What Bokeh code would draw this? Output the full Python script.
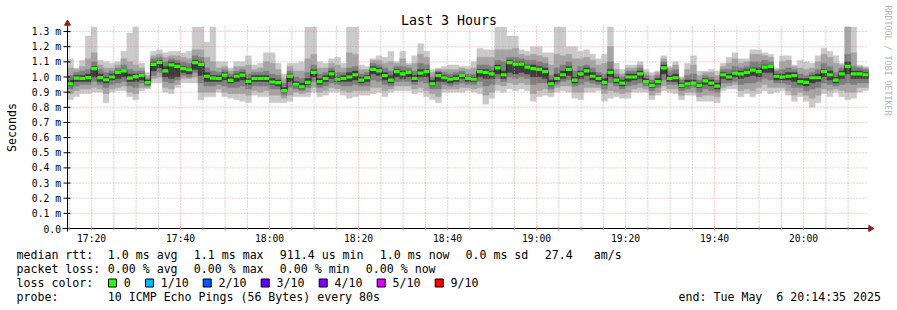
import math
from bokeh.plotting import figure
from bokeh.models import Range1d
from bokeh.embed import file_html
from bokeh.resources import INLINE
from bokeh.core.properties import value

# ---------------- data ----------------
START_TIME = "17:14:35"
STEP_SECONDS = 80
N_STEPS = 135

# median rtt per 80 s step (ms)
MEDIAN = [0.955, 0.993, 0.990, 0.996, 1.055, 0.996, 0.982, 1.000, 1.030, 1.040,
          0.993, 1.002, 1.010, 0.963, 1.083, 1.097, 1.040, 1.080, 1.070, 1.055,
          1.048, 1.095, 1.083, 1.005, 0.993, 0.990, 1.012, 0.978, 1.005, 1.012,
          0.971, 0.990, 0.990, 0.990, 0.967, 0.963, 0.911, 1.006, 0.952, 0.935,
          0.965, 1.030, 0.970, 0.990, 1.020, 0.985, 0.990, 1.000, 1.015, 0.980,
          0.995, 1.050, 1.040, 1.010, 0.980, 1.035, 1.020, 1.030, 0.990, 1.025,
          1.035, 0.955, 1.010, 0.995, 0.985, 0.990, 1.010, 0.990, 0.985, 1.035,
          1.030, 1.020, 1.060, 1.015, 1.095, 1.085, 1.085, 1.065, 1.055, 1.050,
          1.035, 0.955, 0.990, 1.015, 1.050, 0.980, 1.020, 1.040, 1.005, 0.990,
          0.965, 1.030, 0.980, 0.960, 1.000, 1.000, 1.020, 0.970, 0.945, 0.970,
          1.060, 0.990, 0.995, 0.945, 0.955, 0.960, 0.945, 0.975, 0.960, 0.940,
          1.015, 1.000, 1.025, 1.020, 1.030, 1.045, 1.035, 1.065, 1.070, 1.005,
          1.000, 1.005, 1.010, 0.970, 0.965, 0.995, 0.995, 1.035, 1.015, 0.980,
          1.020, 1.070, 1.020, 1.020, 1.015]

# sorted ping rtts (1st..10th of 10) per step, in hundredths of a ms
P1 = [85, 87, 89, 89, 90, 90, 83, 90, 91, 91, 87, 85, 91, 92, 96, 96, 90, 89, 93, 96,
      96, 96, 85, 87, 87, 90, 87, 86, 85, 84, 83, 88, 87, 87, 83, 83, 83, 84, 87, 87,
      87, 90, 87, 88, 90, 90, 88, 86, 87, 88, 88, 89, 90, 87, 90, 91, 91, 91, 89, 90,
      87, 85, 83, 90, 90, 90, 90, 91, 90, 89, 82, 86, 91, 90, 92, 91, 92, 91, 84, 87,
      88, 87, 90, 91, 90, 86, 85, 90, 90, 91, 84, 86, 87, 86, 86, 90, 90, 90, 85, 88,
      91, 90, 89, 85, 88, 88, 84, 84, 84, 83, 91, 92, 92, 87, 89, 87, 89, 91, 89, 90,
      91, 88, 84, 87, 84, 80, 83, 89, 87, 90, 87, 85, 86, 90, 91]
P2 = [89, 91, 92, 92, 93, 92, 89, 92, 93, 94, 90, 89, 93, 93, 99, 100, 93, 92, 95, 99,
      99, 100, 90, 90, 90, 92, 90, 89, 89, 89, 88, 91, 90, 91, 88, 88, 86, 88, 90, 89,
      90, 93, 90, 91, 93, 92, 91, 90, 91, 91, 91, 93, 93, 91, 92, 94, 94, 94, 92, 93,
      91, 89, 87, 92, 92, 92, 93, 93, 92, 93, 88, 90, 95, 94, 96, 95, 96, 95, 89, 91,
      92, 90, 93, 94, 94, 90, 90, 93, 93, 93, 89, 91, 90, 89, 90, 92, 93, 92, 88, 90,
      94, 92, 92, 88, 90, 90, 87, 88, 88, 87, 93, 94, 95, 91, 92, 91, 93, 95, 93, 93,
      93, 91, 88, 90, 88, 86, 88, 92, 91, 92, 91, 90, 90, 93, 93]
P3 = [92, 94, 95, 95, 97, 95, 93, 95, 96, 97, 94, 93, 96, 94, 101, 103, 97, 96, 98, 101,
      100, 103, 96, 94, 94, 95, 94, 93, 93, 94, 92, 94, 94, 94, 92, 92, 88, 93, 92, 91,
      93, 97, 93, 94, 96, 95, 94, 94, 95, 94, 94, 98, 97, 95, 94, 97, 97, 97, 95, 97,
      96, 92, 92, 95, 94, 95, 96, 95, 95, 97, 94, 95, 99, 97, 100, 99, 100, 99, 95, 96,
      96, 92, 95, 97, 98, 94, 95, 97, 96, 95, 92, 96, 94, 92, 94, 95, 96, 94, 91, 93,
      98, 95, 95, 91, 92, 93, 90, 92, 91, 90, 96, 96, 97, 95, 96, 96, 97, 99, 98, 96,
      96, 95, 93, 93, 91, 92, 93, 96, 95, 94, 95, 96, 95, 96, 96]
P4 = [94, 97, 97, 97, 100, 97, 96, 98, 99, 100, 97, 97, 98, 95, 104, 106, 100, 99, 100, 103,
      102, 105, 101, 97, 97, 97, 98, 96, 97, 98, 95, 97, 97, 97, 95, 94, 90, 97, 94, 92,
      95, 100, 95, 97, 99, 97, 97, 97, 98, 96, 97, 102, 101, 98, 96, 100, 99, 100, 97, 100,
      100, 94, 97, 97, 96, 97, 99, 97, 97, 100, 99, 99, 102, 99, 103, 102, 103, 102, 100, 100,
      99, 94, 97, 99, 101, 96, 99, 101, 98, 97, 95, 100, 96, 94, 97, 98, 99, 96, 93, 95,
      102, 97, 97, 93, 94, 95, 93, 95, 94, 92, 99, 98, 100, 99, 100, 101, 100, 103, 103, 98,
      98, 98, 97, 95, 94, 96, 97, 100, 98, 96, 99, 102, 99, 99, 99]
P7 = [98, 101, 101, 102, 107, 102, 100, 102, 104, 105, 102, 102, 102, 98, 110, 111, 107, 110, 109, 107,
      106, 111, 110, 103, 101, 101, 103, 100, 102, 103, 99, 101, 101, 101, 99, 98, 93, 102, 97, 96,
      99, 105, 99, 101, 104, 100, 101, 103, 104, 100, 101, 107, 106, 103, 101, 105, 104, 104, 101, 105,
      105, 98, 103, 101, 100, 101, 102, 100, 100, 105, 105, 104, 108, 104, 111, 110, 110, 108, 108, 107,
      106, 98, 102, 104, 107, 100, 104, 106, 103, 101, 99, 105, 100, 98, 102, 102, 104, 99, 96, 99,
      108, 101, 102, 96, 98, 98, 96, 99, 98, 96, 103, 102, 104, 104, 105, 106, 106, 108, 108, 102,
      102, 103, 103, 99, 99, 101, 102, 105, 104, 100, 104, 110, 104, 104, 103]
P8 = [101, 103, 104, 105, 110, 105, 103, 104, 106, 108, 105, 104, 104, 99, 112, 113, 110, 112, 111, 110,
      109, 114, 113, 106, 104, 103, 105, 102, 104, 105, 102, 103, 103, 104, 102, 101, 96, 104, 100, 99,
      103, 108, 102, 103, 106, 103, 103, 106, 107, 102, 103, 109, 108, 106, 104, 107, 107, 106, 104, 109,
      108, 100, 104, 103, 102, 103, 104, 102, 102, 108, 108, 107, 111, 110, 113, 113, 112, 111, 111, 110,
      109, 101, 106, 108, 110, 104, 107, 108, 106, 103, 102, 110, 102, 100, 104, 104, 106, 101, 98, 101,
      110, 104, 105, 98, 101, 102, 98, 101, 100, 98, 105, 105, 107, 106, 107, 110, 110, 111, 110, 104,
      105, 106, 105, 102, 101, 103, 105, 109, 107, 103, 106, 115, 107, 106, 105]
P9 = [106, 105, 107, 112, 116, 108, 106, 106, 108, 112, 110, 108, 106, 101, 114, 115, 113, 114, 114, 113,
      112, 118, 118, 113, 110, 106, 107, 104, 107, 107, 108, 105, 106, 110, 109, 105, 99, 107, 104, 104,
      112, 115, 106, 106, 109, 108, 106, 116, 115, 105, 105, 111, 111, 109, 110, 109, 112, 108, 109, 115,
      113, 103, 105, 105, 105, 105, 106, 105, 106, 113, 113, 113, 118, 118, 118, 119, 115, 114, 115, 114,
      113, 108, 115, 114, 115, 112, 112, 113, 111, 108, 109, 120, 105, 102, 106, 106, 108, 103, 101, 103,
      112, 106, 108, 99, 105, 108, 101, 103, 103, 101, 107, 109, 112, 109, 110, 115, 115, 114, 113, 105,
      110, 111, 107, 106, 105, 106, 110, 115, 113, 109, 108, 133, 116, 107, 106]
P10 = [112, 106, 111, 127, 133, 111, 110, 109, 110, 117, 129, 133, 109, 103, 117, 118, 116, 117, 117, 116,
       117, 133, 133, 123, 133, 110, 110, 106, 110, 110, 114, 108, 109, 116, 116, 109, 102, 109, 109, 110,
       133, 133, 110, 109, 112, 113, 109, 133, 133, 108, 107, 112, 114, 113, 117, 110, 117, 109, 114, 122,
       117, 105, 106, 107, 108, 108, 107, 107, 110, 119, 118, 118, 133, 133, 127, 127, 118, 117, 120, 120,
       116, 116, 133, 133, 120, 120, 117, 118, 115, 112, 115, 133, 109, 105, 108, 108, 110, 105, 103, 104,
       114, 107, 110, 100, 109, 114, 104, 104, 105, 104, 109, 113, 116, 112, 112, 118, 118, 116, 115, 106,
       114, 114, 108, 111, 110, 109, 114, 119, 117, 114, 109, 133, 133, 108, 107]

Y_TICKS = [0.0, 0.1, 0.2, 0.3, 0.4, 0.5, 0.6, 0.7, 0.8, 0.9, 1.0, 1.1, 1.2, 1.3]
Y_TICK_LABELS = ["0.0", "0.1 m", "0.2 m", "0.3 m", "0.4 m", "0.5 m", "0.6 m",
                 "0.7 m", "0.8 m", "0.9 m", "1.0 m", "1.1 m", "1.2 m", "1.3 m"]
X_TICK_LABELS = ["17:20", "17:40", "18:00", "18:20", "18:40", "19:00", "19:20", "19:40", "20:00"]
MINOR_MINUTES = 5

LOSS_LABELS = ["0", "1/10", "2/10", "3/10", "4/10", "5/10", "9/10"]
LOSS_COLORS = ["#26ff00", "#00b8ff", "#0059ff", "#5e00ff", "#7e00ff", "#dd00ff", "#ff0000"]

TITLE = "Last 3 Hours"
Y_LABEL = "Seconds"
WATERMARK = "RRDTOOL / TOBI OETIKER"
LEGEND_ROWS = [
    [("median rtt:", 16), ("1.0 ms avg", 107.3), ("1.1 ms max", 193.3), ("911.4 us min", 279.3),
     ("1.0 ms now", 379.3), ("0.0 ms sd", 465), ("27.4", 544.3), ("am/s", 593.3)],
    [("packet loss:", 16), ("0.00 % avg", 107.3), ("0.00 % max", 193.3), ("0.00 % min", 279.3),
     ("0.00 % now", 365.3)],
    [("loss color:", 16)],
    [("probe:", 16), ("10 ICMP Echo Pings (56 Bytes) every 80s", 107.3)],
]
END_TEXT = "end: Tue May \u00a06 20:14:35 2025"

# ---------------- layout ----------------
W, H = 897, 310
PX_LEFT, PX_RIGHT = 67, 868
PX_ZERO = 228
PX_PER_MS = 151.5
FONT = "DejaVu Sans Mono"


def hm(s):
    parts = [int(v) for v in s.split(":")]
    return parts[0] * 60 + parts[1] + (parts[2] / 60 if len(parts) > 2 else 0)


start_min = hm(START_TIME)
step_min = STEP_SECONDS / 60
end_min = start_min + N_STEPS * step_min
px_per_min = (PX_RIGHT - PX_LEFT) / (end_min - start_min)
x0 = start_min - PX_LEFT / px_per_min
x1 = x0 + W / px_per_min
y1 = PX_ZERO / PX_PER_MS
y0 = y1 - H / PX_PER_MS


def X(px):
    return x0 + px / px_per_min


def Y(py):
    return (PX_ZERO - py) / PX_PER_MS


p = figure(width=W, height=H, x_range=Range1d(x0, x1), y_range=Range1d(y0, y1),
           x_axis_location=None, y_axis_location=None, min_border=0,
           toolbar_location=None, output_backend="svg",
           background_fill_color="white", border_fill_color="white")
p.outline_line_color = None
p.xgrid.visible = False
p.ygrid.visible = False

lefts = [start_min + i * step_min for i in range(N_STEPS)]
rights = [l + step_min for l in lefts]

bands = [(P1, P10, "#cacaca"), (P2, P9, "#a4a4a4"), (P3, P8, "#7e7e7e"), (P4, P7, "#3e3e3e")]
for lo, hi, col in bands:
    p.quad(left=lefts, right=rights, bottom=[v / 100 for v in lo], top=[v / 100 for v in hi],
           fill_color=col, line_color=col, line_width=0.4)

# median line (dark) and green loss-coloured band
edges = lefts + [end_min]
p.step(x=edges, y=MEDIAN + [MEDIAN[-1]], mode="after", line_color="#202020", line_width=1)
half = 1.6 / PX_PER_MS
p.quad(left=lefts, right=rights, bottom=[m - half for m in MEDIAN], top=[m + half for m in MEDIAN],
       fill_color=LOSS_COLORS[0], line_color=None)

# grid (drawn on top, like rrdtool)
first_minor = math.ceil(start_min / MINOR_MINUTES) * MINOR_MINUTES
minor = [first_minor + MINOR_MINUTES * k for k in range(int((end_min - first_minor) // MINOR_MINUTES) + 1)]
major = [hm(t) for t in X_TICK_LABELS]
minor = [m for m in minor if all(abs(m - M) > 1e-6 for M in major)]
ytop = Y(25)
p.multi_line(xs=[[m, m] for m in minor], ys=[[0, ytop]] * len(minor),
             line_color="#b0b0b0", line_dash="1 2", line_width=1)
p.multi_line(xs=[[m, m] for m in major], ys=[[0, ytop]] * len(major),
             line_color="#ff7070", line_alpha=0.7, line_dash="1 2", line_width=1)
p.multi_line(xs=[[start_min, end_min]] * (len(Y_TICKS) - 1), ys=[[y, y] for y in Y_TICKS[1:]],
             line_color="#ff7070", line_alpha=0.7, line_dash="1 2", line_width=1)

# axes
p.segment(x0=[X(62)], y0=[0], x1=[X(870)], y1=[0], line_color="black", line_width=1)
p.segment(x0=[start_min], y0=[Y(231)], x1=[start_min], y1=[Y(22)], line_color="black", line_width=1)
p.scatter(x=[start_min], y=[Y(23)], marker="triangle", size=6, fill_color="#902020", line_color="#902020")
p.scatter(x=[X(870)], y=[0], marker="triangle", size=6, angle=-math.pi / 2,
          fill_color="#902020", line_color="#902020")
p.segment(x0=[X(63)] * len(Y_TICKS), y0=Y_TICKS, x1=[X(70)] * len(Y_TICKS), y1=Y_TICKS,
          line_color="black", line_width=1)
p.segment(x0=minor, y0=[Y(226)] * len(minor), x1=minor, y1=[Y(230)] * len(minor),
          line_color="#a0a0a0", line_width=1)
p.segment(x0=major, y0=[Y(226)] * len(major), x1=major, y1=[Y(230)] * len(major),
          line_color="#ff7070", line_width=1)

# tick labels
p.text(x=[X(60.5)] * len(Y_TICKS), y=Y_TICKS, text=Y_TICK_LABELS, text_font=value(FONT),
       text_font_size="9.7px", text_align="right", text_baseline="middle", text_color="black")
p.text(x=major, y=[Y(237.5)] * len(major), text=X_TICK_LABELS, text_font=value(FONT),
       text_font_size="9.7px", text_align="center", text_baseline="middle", text_color="black")

# title, y label, watermark
p.text(x=[X(448.5)], y=[Y(19.5)], text=[TITLE], text_font=value(FONT), text_font_size="13.3px",
       text_align="center", text_baseline="middle", text_color="black")
p.text(x=[X(11)], y=[Y(127)], text=[Y_LABEL], text_font=value(FONT), text_font_size="11.6px",
       angle=math.pi / 2, text_align="center", text_baseline="middle", text_color="black")
p.text(x=[X(887)], y=[Y(60)], text=[WATERMARK], text_font=value(FONT), text_font_size="8.3px",
       angle=-math.pi / 2, text_align="center", text_baseline="middle", text_color="#b4b4b4")

# legend
row_y = [254.3, 268.3, 282.3, 296.3]
for (row, ry) in zip(LEGEND_ROWS, row_y):
    p.text(x=[X(px) for _, px in row], y=[Y(ry)] * len(row), text=[t for t, _ in row],
           text_font=value(FONT), text_font_size="11.6px", text_align="left",
           text_baseline="middle", text_color="black")
box_px = [112, 149, 206.7, 264.7, 322.7, 380.7, 438.7]
lab_px = [123.3, 160.3, 218, 276, 334, 392, 450]
p.rect(x=[X(b) for b in box_px], y=[Y(282.5)] * len(box_px), width=8, height=8,
       width_units="screen", height_units="screen", fill_color=LOSS_COLORS, line_color="black")
p.text(x=[X(l) for l in lab_px], y=[Y(282.3)] * len(lab_px), text=LOSS_LABELS, text_font=value(FONT),
       text_font_size="11.6px", text_align="left", text_baseline="middle", text_color="black")
p.text(x=[X(880.5)], y=[Y(296.3)], text=[END_TEXT], text_font=value(FONT), text_font_size="11.6px",
       text_align="right", text_baseline="middle", text_color="black")

open("out.html", "w").write(file_html(p, INLINE))
